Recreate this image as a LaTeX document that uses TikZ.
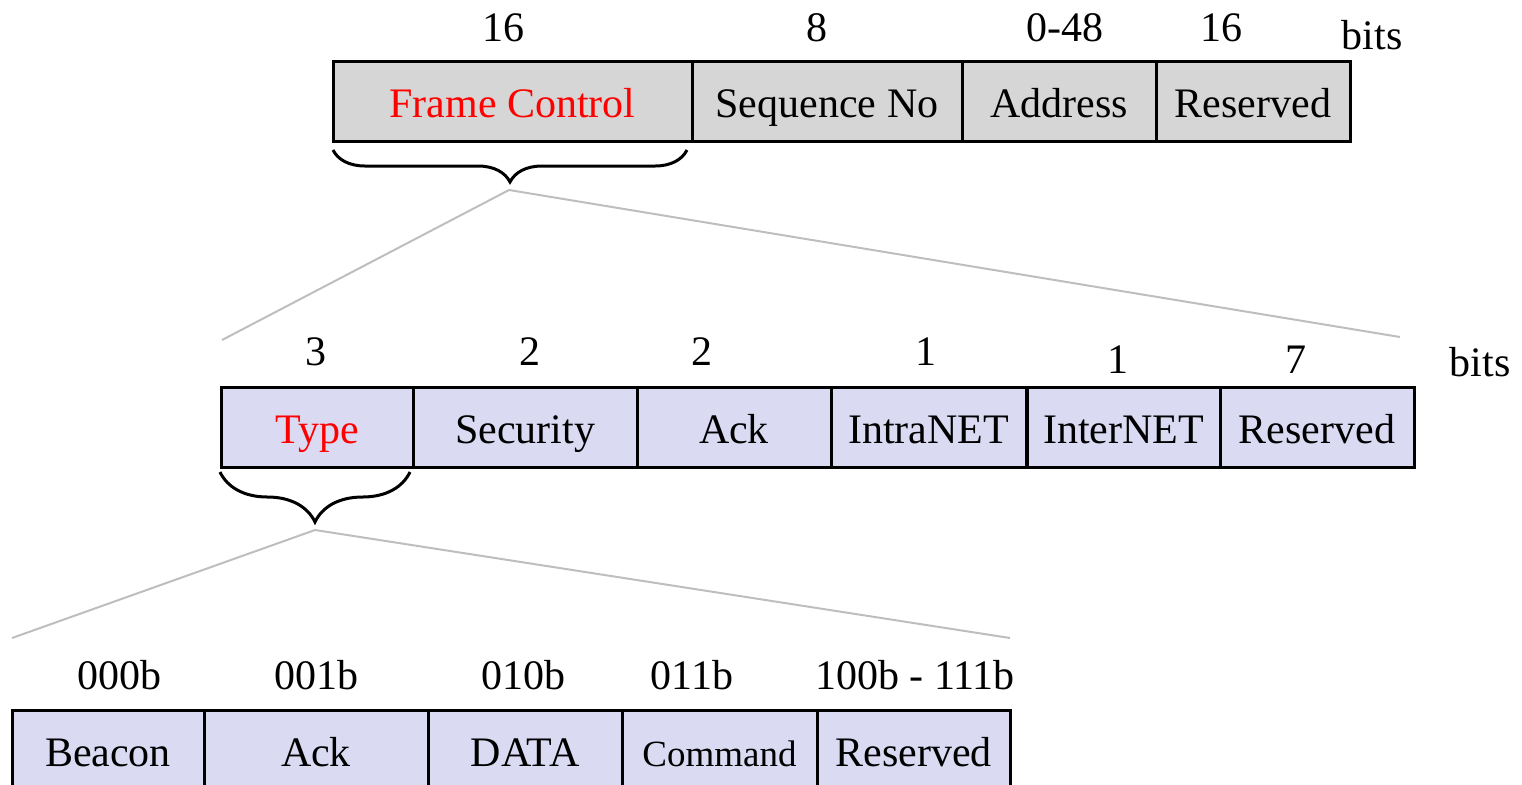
\documentclass[tikz,border=0pt]{standalone}
\usepackage{fontspec}
\setmainfont{Liberation Serif}
\usetikzlibrary{decorations.pathreplacing}
\definecolor{fieldgray}{RGB}{214,214,214}
\definecolor{fieldblue}{RGB}{218,218,243}
\definecolor{zoomgray}{RGB}{190,190,190}

\begin{document}
\begin{tikzpicture}[x=0.5pt,y=-0.5pt,
  field/.style={draw,line width=1.5pt,inner sep=0pt,minimum height=40pt,text height=17pt,text depth=1pt,font=\fontsize{21}{25}\selectfont},
  grayfield/.style={field,fill=fieldgray},
  bluefield/.style={field,fill=fieldblue},
  bitlabel/.style={inner sep=0pt,font=\fontsize{21}{25}\selectfont},
  bracket/.style={decorate,decoration={brace,amplitude=#1},line width=1.5pt},
  zoomedge/.style={zoomgray,line width=1pt}]
  \useasboundingbox (0,0) rectangle (1522,784);
  \def\ytop{101};
  \def\ymid{427};
  \def\ybot{750};
  % frame header
  \node[grayfield,minimum width=179.5pt,text=red] (fc) at (512.5,\ytop) {Frame Control};
  \node[grayfield,minimum width=135pt] (seq) at (827,\ytop) {Sequence No};
  \node[grayfield,minimum width=97pt] (addr) at (1059,\ytop) {Address};
  \node[grayfield,minimum width=97pt] (res) at (1253,\ytop) {Reserved};
  \node[bitlabel] (fcbits) at (503,28) {16};
  \node[bitlabel] (seqbits) at (817,28) {8};
  \node[bitlabel] (addrbits) at (1065,28) {0-48};
  \node[bitlabel] (resbits) at (1221,28) {16};
  \node[bitlabel] (topunit) at (1372,35) {bits};
  % frame control
  \node[bluefield,minimum width=96pt,text=red] (type) at (317,\ymid) {Type};
  \node[bluefield,minimum width=112pt] (sec) at (525,\ymid) {Security};
  \node[bluefield,minimum width=97pt] (ack) at (734,\ymid) {Ack};
  \node[bluefield,minimum width=97.5pt] (intra) at (928.5,\ymid) {IntraNET};
  \node[bluefield,minimum width=96.5pt] (inter) at (1123.5,\ymid) {InterNET};
  \node[bluefield,minimum width=97pt] (fcres) at (1317,\ymid) {Reserved};
  \node[bitlabel] (typebits) at (316,352) {3};
  \node[bitlabel] (secbits) at (530,352) {2};
  \node[bitlabel] (ackbits) at (702,352) {2};
  \node[bitlabel] (intrabits) at (926,352) {1};
  \node[bitlabel] (interbits) at (1118,360) {1};
  \node[bitlabel] (fcresbits) at (1296,360) {7};
  \node[bitlabel] (midunit) at (1480,362) {bits};
  % frame type
  \node[bluefield,minimum width=96pt] (beacon) at (108,\ybot) {Beacon};
  \node[bluefield,minimum width=112pt] (tack) at (316,\ybot) {Ack};
  \node[bluefield,minimum width=97pt] (data) at (525,\ybot) {DATA};
  \node[bluefield,minimum width=97.5pt,font=\fontsize{18.5}{22}\selectfont] (cmd) at (719.5,\ybot) {Command};
  \node[bluefield,minimum width=96.5pt] (tres) at (913.5,\ybot) {Reserved};
  \node[bitlabel] (beaconval) at (119,675) {000b};
  \node[bitlabel] (tackval) at (316,675) {001b};
  \node[bitlabel] (dataval) at (523,675) {010b};
  \node[bitlabel] (cmdval) at (692,675) {011b};
  \node[bitlabel] (tresval) at (915,675) {100b - 111b};
  % braces and zoom lines
  \coordinate (fcl) at (333,150);
  \coordinate (fcr) at (687,150);
  \coordinate (fctip) at (509,190);
  \coordinate (midl) at (222,340);
  \coordinate (midr) at (1400,337);
  \draw[bracket=16pt] (fcr) -- (fcl);
  \draw[zoomedge] (midl) -- (fctip) -- (midr);
  \coordinate (typel) at (220,472);
  \coordinate (typer) at (410,472);
  \coordinate (typetip) at (315,530);
  \coordinate (botl) at (12,638);
  \coordinate (botr) at (1010,638);
  \draw[bracket=25pt] (typer) -- (typel);
  \draw[zoomedge] (botl) -- (typetip) -- (botr);
\end{tikzpicture}
\end{document}
